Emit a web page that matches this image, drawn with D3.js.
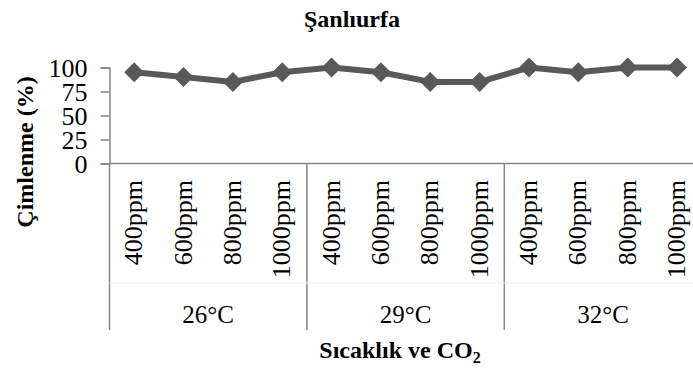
<!DOCTYPE html>
<html>
<head>
<meta charset="utf-8">
<script src="https://cdn.jsdelivr.net/npm/d3@7"></script>
<style>
  html, body { margin: 0; padding: 0; background: #fff; }
  svg, svg text { font-family: 'Liberation Serif', 'Times New Roman', Times, 'DejaVu Serif', serif; }
  svg { display: block; }
</style>
</head>
<body>
<svg id="chart" width="693" height="372"></svg>
<script>
// Germination (%) by temperature and CO2 level
const temperatures = ["26°C", "29°C", "32°C"];
const co2Levels = ["400ppm", "600ppm", "800ppm", "1000ppm"];
const germination = [95, 90, 85, 95, 100, 95, 85, 85, 100, 95, 100, 100];
const yTicks = [0, 25, 50, 75, 100];

const categories = [];
temperatures.forEach(t => co2Levels.forEach(c => categories.push({ temp: t, co2: c })));

const serif = "'Liberation Serif', 'Times New Roman', Times, serif";
const svg = d3.select("#chart").attr("font-family", serif);
const plotLeft = 109.5, plotRight = 701.7, plotTop = 67.5, plotBottom = 163.5;
const axisColor = "#868686";
const lineColor = "#595959";

const x = d3.scaleBand().domain(d3.range(categories.length)).range([plotLeft, plotRight]);
const y = d3.scaleLinear().domain([0, 100]).range([plotBottom, plotTop]);
const cx = i => x(i) + x.bandwidth() / 2;

// Title
svg.append("text").attr("x", 352).attr("y", 27).attr("text-anchor", "middle")
  .attr("font-family", serif).attr("font-weight", "bold").attr("font-size", 24).text("Şanlıurfa");

// Y axis
const yAxis = svg.append("g").attr("transform", `translate(${plotLeft},0)`)
  .call(d3.axisLeft(y).tickValues(yTicks).tickSize(9).tickPadding(13))
  .attr("font-family", serif);
yAxis.select(".domain").attr("stroke", axisColor).attr("stroke-width", 1.5);
yAxis.selectAll(".tick line").attr("stroke", axisColor).attr("stroke-width", 1.5);
yAxis.selectAll(".tick text").attr("font-size", 26).attr("font-family", serif)
  .attr("fill", "#000").attr("dy", "0.34em");

// Y axis title
svg.append("text").attr("transform", `translate(33,152) rotate(-90)`)
  .attr("text-anchor", "middle").attr("font-family", serif).attr("font-weight", "bold").attr("font-size", 24)
  .text("Çimlenme (%)");

// X axis baseline
svg.append("line").attr("x1", plotLeft).attr("x2", plotRight).attr("y1", plotBottom).attr("y2", plotBottom)
  .attr("stroke", axisColor).attr("stroke-width", 1.5);

// Group dividers
const dividerBottom = 330;
d3.range(temperatures.length + 1).forEach(i => {
  const xi = i * co2Levels.length;
  const xp = xi < categories.length ? x(xi) : plotRight;
  svg.append("line").attr("x1", xp).attr("x2", xp).attr("y1", plotBottom).attr("y2", dividerBottom)
    .attr("stroke", axisColor).attr("stroke-width", 1.5);
});

// Faint separator between label rows
svg.append("line").attr("x1", plotLeft).attr("x2", plotRight).attr("y1", 283).attr("y2", 283)
  .attr("stroke", "#f0f0f0").attr("stroke-width", 1);

// CO2 labels (rotated)
svg.append("g").selectAll("text").data(categories).join("text")
  .attr("transform", (d, i) => `translate(${cx(i) + 8},180) rotate(-90)`)
  .attr("text-anchor", "end").attr("font-family", serif).attr("font-size", 26).text(d => d.co2);

// Temperature labels
svg.append("g").selectAll("text").data(temperatures).join("text")
  .attr("x", (d, i) => (x(i * 4) + (i * 4 + 4 < categories.length ? x(i * 4 + 4) : plotRight)) / 2)
  .attr("y", 323).attr("text-anchor", "middle").attr("font-family", serif).attr("font-size", 25).text(d => d);

// X axis title
const xt = svg.append("text").attr("x", 400).attr("y", 358).attr("text-anchor", "middle")
  .attr("font-family", serif).attr("font-weight", "bold").attr("font-size", 24);
xt.append("tspan").text("Sıcaklık ve CO");
xt.append("tspan").attr("font-size", 16).attr("dy", 5).text("2");

// Series line
const line = d3.line().x((d, i) => cx(i)).y(d => y(d));
svg.append("path").datum(germination).attr("d", line)
  .attr("fill", "none").attr("stroke", lineColor).attr("stroke-width", 6).attr("stroke-linejoin", "round");

// Diamond markers
const diamond = d3.symbol().type(d3.symbolSquare).size(200);
svg.append("g").selectAll("path").data(germination).join("path")
  .attr("d", diamond)
  .attr("transform", (d, i) => `translate(${cx(i)},${y(d)}) rotate(45)`)
  .attr("fill", lineColor);
</script>
</body>
</html>
